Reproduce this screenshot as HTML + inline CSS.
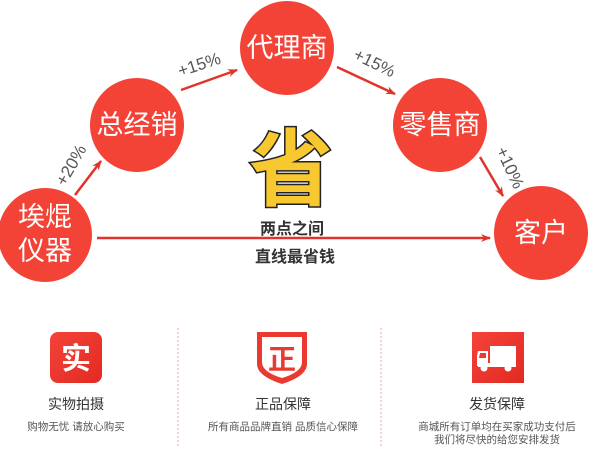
<!DOCTYPE html>
<html><head><meta charset="utf-8"><style>
html,body{margin:0;padding:0;background:#fff;width:600px;height:466px;overflow:hidden}
svg{display:block}
text{font-family:"Liberation Sans","Noto Sans CJK SC",sans-serif}
</style></head><body>
<svg width="600" height="466" viewBox="0 0 600 466" xmlns="http://www.w3.org/2000/svg">
<defs>
<marker id="ah" markerWidth="10" markerHeight="8" refX="9" refY="4" orient="auto" markerUnits="userSpaceOnUse">
<path d="M0,0 L10,4 L0,8 L3,4 Z" fill="#e0332b"/>
</marker>
<linearGradient id="rg" x1="0" y1="0" x2="1" y2="1"><stop offset="0" stop-color="#f5433a"/><stop offset="1" stop-color="#e12a22"/></linearGradient>
</defs>
<g fill="#f34236">
<circle cx="287" cy="48" r="47"/>
<circle cx="137" cy="125" r="47"/>
<circle cx="440" cy="125" r="47"/>
<circle cx="45" cy="235" r="47"/>
<circle cx="541" cy="233" r="47"/>
</g>
<g fill="#fff" font-size="27" text-anchor="middle">
<text x="287" y="57">代理商</text>
<text x="137" y="134">总经销</text>
<text x="440" y="134">零售商</text>
<text x="45" y="226">埃焜</text>
<text x="45" y="260">仪器</text>
<text x="541" y="242">客户</text>
</g>
<g stroke="#e0332b" stroke-width="2.5" fill="none" marker-end="url(#ah)">
<line x1="181" y1="90" x2="237" y2="70"/>
<line x1="337" y1="67" x2="395" y2="94"/>
<line x1="75" y1="195" x2="101" y2="161"/>
<line x1="480" y1="157" x2="503" y2="196"/>
<line x1="97" y1="238" x2="490" y2="238"/>
</g>
<g fill="#555" font-size="17" text-anchor="middle">
<text transform="translate(201,70) rotate(-18)">+15%</text>
<text transform="translate(372,68) rotate(26)">+15%</text>
<text transform="translate(76,168) rotate(-60)">+20%</text>
<text transform="translate(505,170) rotate(65)">+10%</text>
</g>
<text x="291" y="199" font-size="84" font-weight="bold" text-anchor="middle" fill="#f7c830" stroke="#222" stroke-width="3" paint-order="stroke" font-family="'Noto Sans CJK SC',sans-serif">省</text>
<g fill="#333" font-size="16" font-weight="bold" text-anchor="middle">
<text x="292" y="234">两点之间</text>
<text x="295" y="262">直线最省钱</text>
</g>
<line x1="178" y1="328" x2="178" y2="446" stroke="#f3a3a0" stroke-width="1" stroke-dasharray="2,2"/>
<line x1="381" y1="328" x2="381" y2="446" stroke="#f3a3a0" stroke-width="1" stroke-dasharray="2,2"/>
<rect x="50" y="332" width="52" height="51" rx="8" fill="url(#rg)"/>
<text x="76" y="369" font-size="30" font-weight="bold" fill="#fff" text-anchor="middle">实</text>
<path d="M257,332 H307 V364 Q307,376 282,384 Q257,376 257,364 Z" fill="#ea3a30"/>
<path d="M262,337 H302 V362 Q302,372 282,378 Q262,372 262,362 Z" fill="#fff"/>
<text x="282" y="369" font-size="28" font-weight="bold" fill="#ea3a30" text-anchor="middle">正</text>
<rect x="472" y="332" width="52" height="51" fill="url(#rg)"/>
<g fill="#fff">
<rect x="490" y="346" width="26" height="17"/>
<path d="M478,351 H488 V366 H477 V356 Z"/>
<rect x="478" y="363" width="38" height="4"/>
<circle cx="484" cy="368" r="3.5"/><circle cx="508" cy="368" r="3.5"/>
</g>
<path d="M480,353 H486 V358 H479 Z" fill="#ea3a30"/>
<g fill="#333" font-size="14" text-anchor="middle">
<text x="76" y="409">实物拍摄</text>
<text x="283" y="409">正品保障</text>
<text x="497" y="409">发货保障</text>
</g>
<g fill="#555" font-size="10.5" text-anchor="middle">
<text x="76" y="430">购物无忧 请放心购买</text>
<text x="283" y="430">所有商品品牌直销 品质信心保障</text>
<text x="497" y="430">商城所有订单均在买家成功支付后</text>
<text x="497" y="443">我们将尽快的给您安排发货</text>
</g>
</svg>
</body></html>
